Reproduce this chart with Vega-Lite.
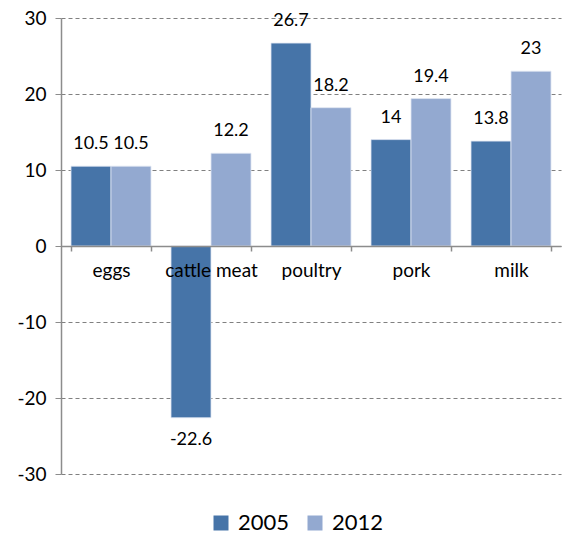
{
  "$schema": "https://vega.github.io/schema/vega-lite/v6.json",
  "autosize": {"type": "none"},
  "width": 500,
  "height": 456,
  "padding": {"left": 61, "top": 18, "right": 4, "bottom": 63},
  "background": "white",
  "config": {
    "font": "Lato",
    "view": {"stroke": null},
    "axis": {"labelFont": "Lato", "labelColor": "#000000"}
  },
  "data": {
    "values": [
      {"product": "eggs", "year": "2005", "value": 10.5},
      {"product": "eggs", "year": "2012", "value": 10.5},
      {"product": "cattle meat", "year": "2005", "value": -22.6},
      {"product": "cattle meat", "year": "2012", "value": 12.2},
      {"product": "poultry", "year": "2005", "value": 26.7},
      {"product": "poultry", "year": "2012", "value": 18.2},
      {"product": "pork", "year": "2005", "value": 14},
      {"product": "pork", "year": "2012", "value": 19.4},
      {"product": "milk", "year": "2005", "value": 13.8},
      {"product": "milk", "year": "2012", "value": 23}
    ]
  },
  "encoding": {
    "x": {
      "field": "product",
      "type": "nominal",
      "sort": ["eggs", "cattle meat", "poultry", "pork", "milk"],
      "scale": {"paddingInner": 0.2, "paddingOuter": 0.1},
      "axis": {
        "title": null,
        "labelAngle": 0,
        "offset": -228,
        "domainColor": "#8c8c8c",
        "domainWidth": 1.5,
        "tickColor": "#8c8c8c",
        "tickWidth": 1.5,
        "tickSize": 5,
        "tickBand": "extent",
        "labelFontSize": 19,
        "labelPadding": 10,
        "zindex": 1
      }
    },
    "xOffset": {"field": "year", "type": "nominal", "scale": {"paddingInner": 0, "paddingOuter": 0}},
    "y": {
      "field": "value",
      "type": "quantitative",
      "scale": {"domain": [-30, 30], "nice": false, "zero": false},
      "axis": {
        "title": null,
        "values": [-30, -20, -10, 0, 10, 20, 30],
        "labelExpr": "'' + datum.value",
        "grid": true,
        "gridColor": "#808080",
        "gridDash": [4, 3],
        "gridWidth": 1.2,
        "domainColor": "#8c8c8c",
        "domainWidth": 1.5,
        "tickColor": "#8c8c8c",
        "tickSize": 6,
        "labelFontSize": 19,
        "labelPadding": 9
      }
    }
  },
  "layer": [
    {
      "mark": {"type": "bar", "stroke": "#dfe6f2", "strokeWidth": 0.8},
      "encoding": {
        "color": {
          "field": "year",
          "type": "nominal",
          "scale": {"domain": ["2005", "2012"], "range": ["#4674A8", "#93A9D0"]},
          "legend": {
            "title": null,
            "orient": "none",
            "legendX": 149,
            "legendY": 494,
            "direction": "horizontal",
            "symbolType": "square",
            "symbolSize": 225,
            "symbolStrokeWidth": 0,
            "labelFontSize": 22,
            "labelFont": "Lato",
            "labelColor": "#000000",
            "labelOffset": 6,
            "columnPadding": 14
          }
        }
      }
    },
    {
      "transform": [{"filter": "datum.value >= 0"}],
      "mark": {"type": "text", "baseline": "bottom", "dy": -13, "fontSize": 18, "font": "Lato", "color": "#000000"},
      "encoding": {"text": {"field": "value", "type": "nominal"}}
    },
    {
      "transform": [{"filter": "datum.value < 0"}],
      "mark": {"type": "text", "baseline": "top", "dy": 13, "fontSize": 18, "font": "Lato", "color": "#000000"},
      "encoding": {"text": {"field": "value", "type": "nominal"}}
    }
  ]
}
